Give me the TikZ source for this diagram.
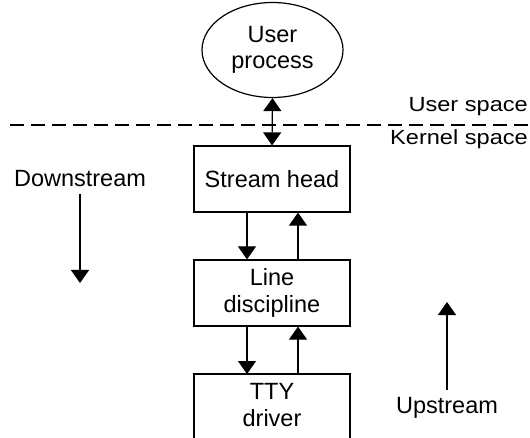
\documentclass[tikz,border=0pt]{standalone}
\usepackage{fontspec}
\setmainfont{Liberation Sans}
\newfontfamily\widefont[FakeStretch=1.15]{Liberation Sans}
\usetikzlibrary{arrows.meta,shapes.geometric}
\begin{document}
\begin{tikzpicture}[x=1pt,y=-1pt,
  lbl/.style={font=\fontsize{23.5}{26.5}\selectfont, inner sep=0pt, align=center},
  spacelbl/.style={font=\widefont\fontsize{20.5}{24}\selectfont, inner sep=0pt, anchor=base east},
  box/.style={draw, line width=1.2pt, minimum width=156pt, lbl},
  arr/.style={line width=1.2pt, -{Triangle[width=18pt,length=13pt]}},
  darr/.style={line width=1.2pt, {Triangle[width=18pt,length=13pt]}-{Triangle[width=18pt,length=13pt]}}]
\useasboundingbox (0,0) rectangle (530,438);
\node[draw, ellipse, line width=1.2pt, minimum width=141pt, minimum height=95pt, lbl] (up) at (272.5,50) {User\\process};
\node[box, minimum height=66pt] (sh) at (272,179) {Stream head};
\node[box, minimum height=66pt] (ld) at (272,293) {Line\\discipline};
\draw[line width=1.2pt] (194,440) |- (350,374) -- (350,440);
\node[lbl] (tty) at (272,405) {TTY\\driver};
\coordinate (ttytop) at (272,374);
\coordinate (dl) at (10,125);
\coordinate (dr) at (530,125);
\draw[line width=1.2pt, dash pattern=on 14pt off 7pt] (dl) -- (dr);
\node[spacelbl] (us) at (528,112) {User space};
\node[spacelbl] (ks) at (528,145) {Kernel space};
\draw[darr] (up.south) -- (sh.north);
\draw[arr] (sh.south -| 247,0) -- (ld.north -| 247,0);
\draw[arr] (ld.north -| 298,0) -- (sh.south -| 298,0);
\draw[arr] (ld.south -| 247,0) -- (ttytop -| 247,0);
\draw[arr] (ttytop -| 298,0) -- (ld.south -| 298,0);
\node[lbl, anchor=base] (ds) at (80,187) {Downstream};
\coordinate (dsstart) at (80,194);
\coordinate (dsend) at (80,283);
\draw[arr] (dsstart) -- (dsend);
\node[lbl, anchor=base] (ups) at (447,413) {Upstream};
\coordinate (upsstart) at (447,390);
\coordinate (upsend) at (447,302);
\draw[arr] (upsstart) -- (upsend);
\end{tikzpicture}
\end{document}
